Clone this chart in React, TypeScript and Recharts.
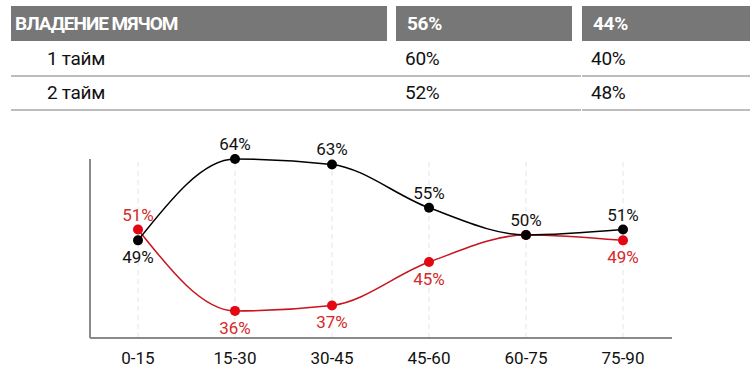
import React from 'react'
import { LineChart, Line, XAxis, YAxis, ReferenceLine, LabelList } from 'recharts'

// possession by 15-minute periods
const periods = ['0-15', '15-30', '30-45', '45-60', '60-75', '75-90']
const homeShare = [49, 64, 63, 55, 50, 51]
const awayShare = [51, 36, 37, 45, 50, 49]

// summary table
const headerTitle = 'ВЛАДЕНИЕ МЯЧОМ'
const headerValues = ['56%', '44%']
const halfNames = ['1 тайм', '2 тайм']
const homeHalves = ['60%', '52%']
const awayHalves = ['40%', '48%']

const FONT = 'Roboto, "Noto Sans", sans-serif'
const RED = '#e30613'
const RED_TEXT = '#d42a2a'

const chartData = periods.map((p, i) => ({
  period: p,
  home: homeShare[i],
  away: awayShare[i],
}))

// column boxes of the table
const cols = [
  { left: 11, width: 376 },
  { left: 396, width: 176 },
  { left: 582, width: 168 },
]

const makeLabel = (color: string, series: 'home' | 'away') => (props: any) => {
  const { x, y, value, index } = props
  if (series === 'away' && awayShare[index] === homeShare[index]) return null
  const other = series === 'home' ? awayShare[index] : homeShare[index]
  const above = value >= other
  return (
    <text
      x={x}
      y={above ? y - 15 : y + 17}
      fill={color}
      fontSize={17}
      fontFamily={FONT}
      textAnchor="middle"
      dominantBaseline="central"
    >
      {value}%
    </text>
  )
}

const Table = () => {
  const rows = halfNames.map((name, i) => [name, homeHalves[i], awayHalves[i]])
  return (
    <div style={{ position: 'absolute', left: 0, top: 0, width: 750, height: 115, fontFamily: FONT }}>
      {[headerTitle, ...headerValues].map((t, c) => (
        <div
          key={'h' + c}
          style={{
            position: 'absolute',
            left: cols[c].left,
            width: cols[c].width,
            top: 6,
            height: 35,
            background: '#777777',
            color: '#ffffff',
            fontWeight: 700,
            fontSize: 19,
            letterSpacing: c === 0 ? -1 : -0.3,
            lineHeight: '35px',
            paddingLeft: c === 0 ? 4 : 11,
            boxSizing: 'border-box',
          }}
        >
          {t}
        </div>
      ))}
      {rows.map((row, r) =>
        row.map((t, c) => (
          <div
            key={r + '-' + c}
            style={{
              position: 'absolute',
              left: cols[c].left,
              width: cols[c].width,
              top: 43 + r * 34,
              height: 32,
              borderBottom: '2px solid #bdbdbd',
              color: '#111111',
              fontSize: 19,
              letterSpacing: -0.3,
              lineHeight: '32px',
              paddingLeft: c === 0 ? 36 : 9,
              boxSizing: 'content-box',
            }}
          >
            {t}
          </div>
        ))
      )}
    </div>
  )
}

export default function App() {
  return (
    <div style={{ position: 'absolute', left: 0, top: 0, width: 750, height: 379, background: '#fff' }}>
      <Table />
      <div style={{ position: 'absolute', left: 0, top: 120 }}>
        <LineChart
          width={750}
          height={259}
          data={chartData}
          margin={{ top: 39, right: 78, bottom: 11, left: 89 }}
        >
          {periods.map((p) => (
            <ReferenceLine key={p} x={p} stroke="#e4e4e4" strokeDasharray="5 4" />
          ))}
          <XAxis
            dataKey="period"
            padding={{ left: 48, right: 49 }}
            axisLine={{ stroke: '#8a8a8a', strokeWidth: 2 }}
            tickLine={false}
            tick={{ fill: '#111', fontSize: 17, fontFamily: FONT }}
            tickMargin={8}
            height={30}
          />
          <YAxis
            domain={[31, 64]}
            width={1}
            tick={false}
            tickLine={false}
            axisLine={{ stroke: '#8a8a8a', strokeWidth: 2 }}
          />
          <Line
            type="monotone"
            dataKey="away"
            stroke="#c8141e"
            strokeWidth={1.5}
            dot={{ r: 5, fill: RED, stroke: RED, strokeWidth: 0 }}
            isAnimationActive={false}
          >
            <LabelList dataKey="away" content={makeLabel(RED_TEXT, 'away')} />
          </Line>
          <Line
            type="monotone"
            dataKey="home"
            stroke="#000000"
            strokeWidth={1.5}
            dot={{ r: 5, fill: '#000', stroke: '#000', strokeWidth: 0 }}
            isAnimationActive={false}
          >
            <LabelList dataKey="home" content={makeLabel('#111', 'home')} />
          </Line>
        </LineChart>
      </div>
    </div>
  )
}
